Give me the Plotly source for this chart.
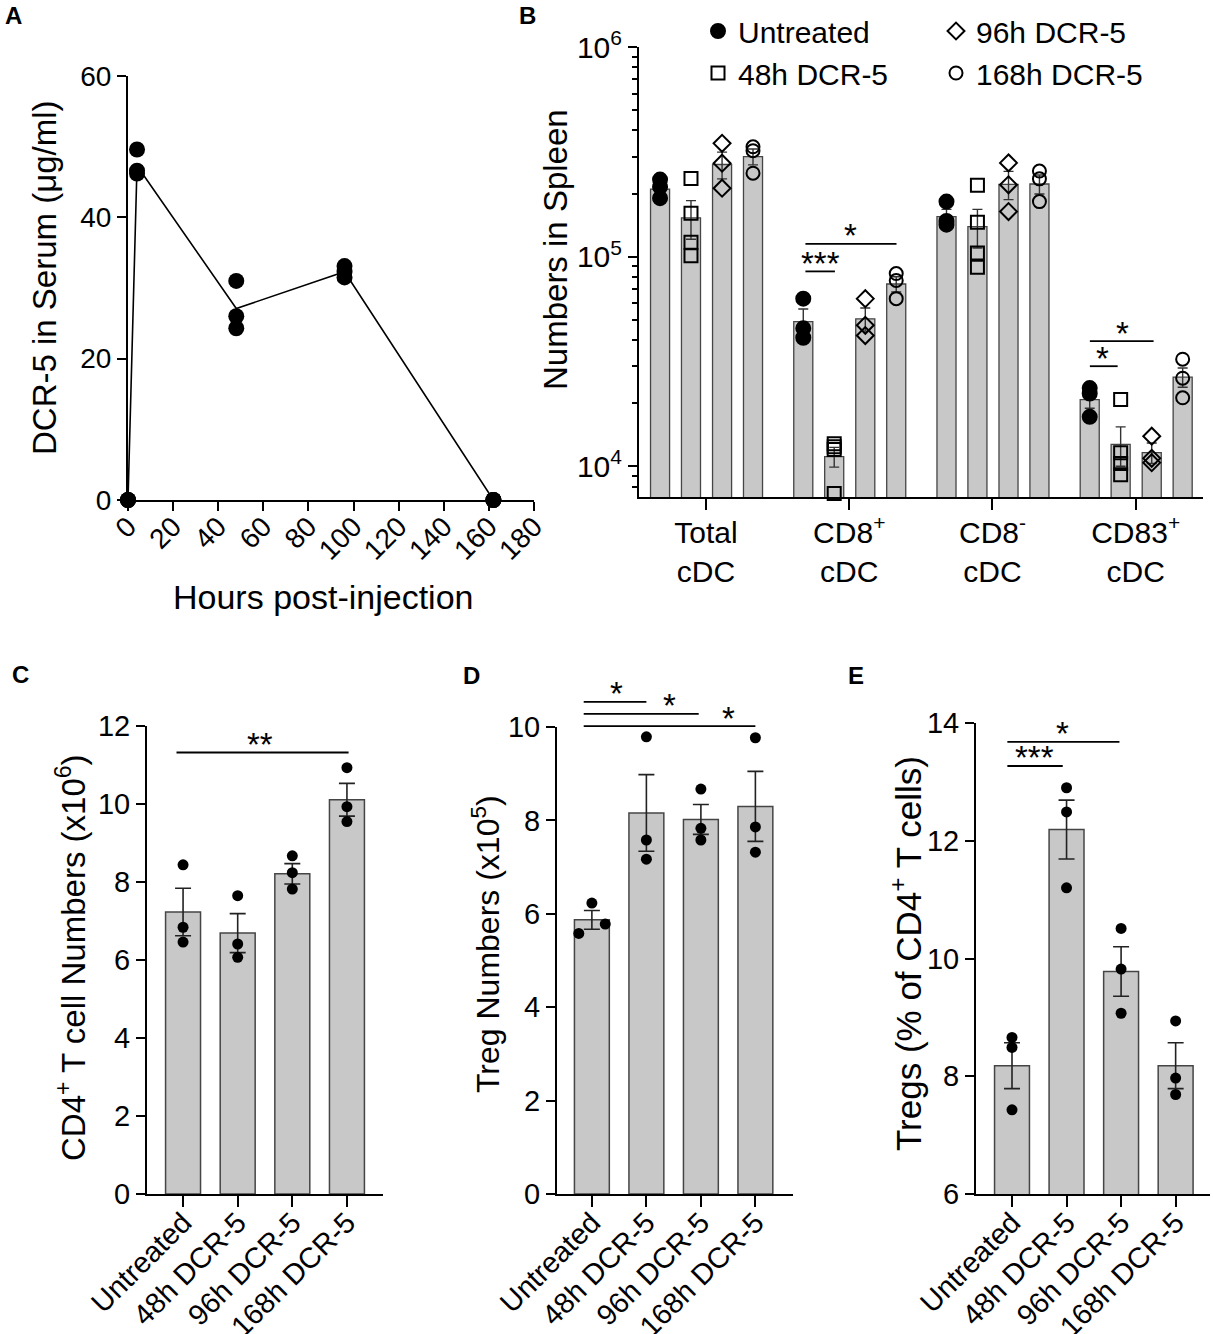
import plotly.graph_objects as go
import numpy as np

W, H = 1213, 1334
FONT = "Liberation Sans, Arial, Helvetica, sans-serif"
BAR_FILL = "#c8c8c8"
BAR_LINE = "#454545"

# ---------------- Panel A data ----------------
A_hours = [0, 4, 48, 96, 162]
A_rep1 = [0, 49.6, 31.0, 33.1, 0]
A_rep2 = [0, 46.6, 26.0, 32.3, 0]
A_rep3 = [0, 46.2, 24.3, 31.5, 0]
A_mean = [0, 47.3, 27.1, 32.3, 0]
A_xticks = [0, 20, 40, 60, 80, 100, 120, 140, 160, 180]
A_yticks = [0, 20, 40, 60]

# ---------------- Panel B data ----------------
B_groups = ["Total<br>cDC", "CD8<sup>+</sup><br>cDC", "CD8<sup>-</sup><br>cDC", "CD83<sup>+</sup><br>cDC"]
B_treatments = ["Untreated", "48h DCR-5", "96h DCR-5", "168h DCR-5"]
B_mean_untreated = [2.10e5, 4.9e4, 1.55e5, 2.08e4]
B_mean_48h = [1.53e5, 1.11e4, 1.39e5, 1.27e4]
B_mean_96h = [2.75e5, 5.05e4, 2.21e5, 1.16e4]
B_mean_168h = [3.0e5, 7.4e4, 2.22e5, 2.66e4]
B_sem_untreated = [1.3e4, 7.2e3, 1.3e4, 1.9e3]
B_sem_48h = [3.2e4, 1.2e3, 2.9e4, 2.7e3]
B_sem_96h = [4.0e4, 6.4e3, 3.4e4, 1.3e3]
B_sem_168h = [2.6e4, 6.2e3, 2.3e4, 2.8e3]
B_pts_untreated = [[2.33e5, 2.15e5, 1.90e5], [6.3e4, 4.55e4, 4.1e4],
                   [1.83e5, 1.48e5, 1.42e5], [2.36e4, 2.22e4, 1.72e4]]
B_pts_48h = [[2.36e5, 1.61e5, 1.17e5, 1.01e5], [1.28e4, 1.24e4, 1.2e4, 7.4e3],
             [2.19e5, 1.46e5, 1.04e5, 8.9e4], [2.08e4, 1.16e4, 1.03e4, 9.1e3]]
B_pts_96h = [[3.47e5, 2.79e5, 2.12e5], [6.3e4, 4.7e4, 4.2e4],
             [2.8e5, 2.2e5, 1.64e5], [1.39e4, 1.09e4, 1.04e4]]
B_pts_168h = [[3.34e5, 3.2e5, 2.5e5], [8.3e4, 7.7e4, 6.3e4],
              [2.56e5, 2.35e5, 1.83e5], [3.24e4, 2.63e4, 2.12e4]]
B_yticks = [1e4, 1e5, 1e6]
B_yticklabels = ["10<sup>4</sup>", "10<sup>5</sup>", "10<sup>6</sup>"]
B_minor = [m * 10 ** e for e in (3, 4, 5) for m in range(2, 10)]
# significance brackets: start, end, height, label, label x
B_sig_x0 = [0.694, 0.694, 2.68, 2.68]
B_sig_x1 = [1.33, 0.90, 3.125, 2.874]
B_sig_y = [1.15e5, 8.5e4, 3.95e4, 3.0e4]
B_sig_label = ["*", "***", "*", "*"]
B_sig_labx = [1.01, 0.80, 2.91, 2.77]

# ---------------- Panels C, D, E data ----------------
CDE_groups = ["Untreated", "48h DCR-5", "96h DCR-5", "168h DCR-5"]

C_mean = [7.23, 6.69, 8.21, 10.11]
C_sem = [0.61, 0.50, 0.26, 0.42]
C_pts = [[8.44, 6.84, 6.46], [7.65, 6.41, 6.07], [8.67, 8.24, 7.82], [10.93, 9.93, 9.55]]
C_sig_x0 = [-0.12]
C_sig_x1 = [3.03]
C_sig_y = [11.32]
C_sig_label = ["**"]
C_sig_labx = [1.40]

D_mean = [5.87, 8.16, 8.02, 8.30]
D_sem = [0.20, 0.82, 0.32, 0.75]
D_pts = [[6.23, 5.58, 5.78], [9.79, 7.58, 7.17], [8.67, 7.83, 7.58], [9.77, 7.86, 7.32]]
D_sig_x0 = [-0.15, -0.15, -0.15]
D_sig_x1 = [1.0, 1.96, 3.0]
D_sig_y = [10.54, 10.28, 10.02]
D_sig_label = ["*", "*", "*"]
D_sig_labx = [0.46, 1.43, 2.50]

E_mean = [8.18, 12.19, 9.78, 8.18]
E_sem = [0.39, 0.50, 0.42, 0.39]
E_pts = [[8.66, 8.49, 7.43], [12.90, 12.49, 11.20], [10.51, 9.82, 9.07], [8.94, 7.97, 7.69]]
E_sig_x0 = [-0.085, -0.085]
E_sig_x1 = [0.93, 1.97]
E_sig_y = [13.27, 13.68]
E_sig_label = ["***", "*"]
E_sig_labx = [0.42, 0.92]

# ---------------- layout helpers ----------------
def xdom(a, b):
    return [a / W, b / W]

def ydom(top, bottom):
    return [1 - bottom / H, 1 - top / H]

def axis_style(size=29, **kw):
    d = dict(showline=True, linecolor="black", linewidth=2, ticks="outside",
             ticklen=9, tickwidth=2, tickcolor="black", showgrid=False,
             zeroline=False, mirror=False,
             tickfont=dict(size=size, color="black", family=FONT))
    d.update(kw)
    return d

fig = go.Figure()

# ---------------- Panel A ----------------
A_x_pts = [h for h in A_hours for _ in range(3)]
A_y_pts = [v for trip in zip(A_rep1, A_rep2, A_rep3) for v in trip]
fig.add_trace(go.Scatter(x=A_hours, y=A_mean, mode="lines", xaxis="x", yaxis="y",
                         line=dict(color="black", width=1.6), showlegend=False,
                         cliponaxis=False))
fig.add_trace(go.Scatter(x=A_x_pts, y=A_y_pts, mode="markers", xaxis="x", yaxis="y",
                         marker=dict(color="black", size=16, symbol="circle"),
                         showlegend=False, cliponaxis=False))

# ---------------- Panel B ----------------
B_offsets = [-0.321, -0.105, 0.112, 0.328]
B_means = [B_mean_untreated, B_mean_48h, B_mean_96h, B_mean_168h]
B_sems = [B_sem_untreated, B_sem_48h, B_sem_96h, B_sem_168h]
B_pts = [B_pts_untreated, B_pts_48h, B_pts_96h, B_pts_168h]
B_symbols = ["circle", "square-open", "diamond-open", "circle-open"]
B_sizes = [14, 13, 13, 13]
B_legends = ["legend", "legend", "legend2", "legend2"]
for k in range(4):
    xs = [g + B_offsets[k] for g in range(4)]
    fig.add_trace(go.Bar(x=xs, y=B_means[k], width=0.133, xaxis="x2", yaxis="y2",
                         marker=dict(color=BAR_FILL, line=dict(color=BAR_LINE, width=1.3)),
                         error_y=dict(type="data", array=B_sems[k], color="#333333",
                                      thickness=1.4, width=5),
                         showlegend=False))
for k in range(4):
    px_, py_ = [], []
    for g in range(4):
        for v in B_pts[k][g]:
            px_.append(g + B_offsets[k])
            py_.append(v)
    fig.add_trace(go.Scatter(x=px_, y=py_, mode="markers", xaxis="x2", yaxis="y2",
                             name=B_treatments[k], legend=B_legends[k],
                             marker=dict(color="black", size=B_sizes[k], symbol=B_symbols[k],
                                         line=dict(color="black", width=2)),
                             cliponaxis=False))
for i in range(len(B_sig_y)):
    fig.add_trace(go.Scatter(x=[B_sig_x0[i], B_sig_x1[i]], y=[B_sig_y[i]] * 2, mode="lines",
                             xaxis="x2", yaxis="y2", line=dict(color="black", width=1.8),
                             showlegend=False, cliponaxis=False))

# ---------------- Panels C, D, E ----------------
# (x axis, y axis for bars, y axis for brackets)
panels = [
    ("x3", "y3", "y3", C_mean, C_sem, C_pts, [[0, 0, 0]] * 4, C_sig_x0, C_sig_x1, C_sig_y),
    ("x4", "y4", "y6", D_mean, D_sem, D_pts, [[0, -0.24, 0.245], [0, 0, 0], [0, 0, 0], [0, 0, 0]],
     D_sig_x0, D_sig_x1, D_sig_y),
    ("x5", "y5", "y5", E_mean, E_sem, E_pts, [[0, 0, 0]] * 4, E_sig_x0, E_sig_x1, E_sig_y),
]
for xa, ya, yb, mean, sem, pts, jit, sx0, sx1, sy in panels:
    fig.add_trace(go.Bar(x=list(range(4)), y=mean, width=0.64, xaxis=xa, yaxis=ya,
                         marker=dict(color=BAR_FILL, line=dict(color=BAR_LINE, width=1.5)),
                         error_y=dict(type="data", array=sem, color="#222222",
                                      thickness=1.6, width=8),
                         showlegend=False))
    xs = [g + jit[g][j] for g in range(4) for j in range(len(pts[g]))]
    ys = [v for g in range(4) for v in pts[g]]
    fig.add_trace(go.Scatter(x=xs, y=ys, mode="markers", xaxis=xa, yaxis=ya,
                             marker=dict(color="black", size=11), showlegend=False,
                             cliponaxis=False))
    for i in range(len(sy)):
        fig.add_trace(go.Scatter(x=[sx0[i], sx1[i]], y=[sy[i]] * 2, mode="lines",
                                 xaxis=xa, yaxis=yb, line=dict(color="black", width=1.8),
                                 showlegend=False, cliponaxis=False))

# ---------------- significance labels ----------------
annotations = []
STAR_FONT = dict(size=33, color="black", family=FONT)
for i in range(len(B_sig_y)):
    annotations.append(dict(x=B_sig_labx[i], y=np.log10(B_sig_y[i]), xref="x2", yref="y2",
                            text=B_sig_label[i], showarrow=False, yanchor="middle",
                            yshift=8, font=STAR_FONT))
for xa, ya, labx, sy, lab in [("x3", "y3", C_sig_labx, C_sig_y, C_sig_label),
                              ("x4", "y6", D_sig_labx, D_sig_y, D_sig_label),
                              ("x5", "y5", E_sig_labx, E_sig_y, E_sig_label)]:
    for i in range(len(sy)):
        annotations.append(dict(x=labx[i], y=sy[i], xref=xa, yref=ya, text=lab[i],
                                showarrow=False, yanchor="middle", yshift=8, font=STAR_FONT))

# axis titles (placed as paper annotations)
def title_ann(text, cx, cy, size, angle=-90):
    return dict(x=cx / W, y=1 - cy / H, xref="paper", yref="paper", text=text,
                showarrow=False, xanchor="center", yanchor="middle", textangle=angle,
                font=dict(size=size, color="black", family=FONT))

annotations += [
    title_ann("DCR-5 in Serum (μg/ml)", 45, 278, 33),
    title_ann("Hours post-injection", 323, 597, 34, angle=0),
    title_ann("Numbers in Spleen", 556, 250, 33),
    title_ann("CD4<sup>+</sup> T cell Numbers (x10<sup>6</sup>)", 71, 958, 33),
    title_ann("Treg Numbers (x10<sup>5</sup>)", 486, 944, 32),
    title_ann("Tregs (% of CD4<sup>+</sup> T cells)", 906, 954, 35),
]

# panel letters
LETTER_FONT = dict(size=24, color="black", family=FONT)
for letter, px, py in [("A", 3, 16), ("B", 517, 16), ("C", 10, 674), ("D", 461, 675), ("E", 846, 675)]:
    annotations.append(dict(x=px / W, y=1 - py / H, xref="paper", yref="paper",
                            text="<b>%s</b>" % letter, showarrow=False,
                            xanchor="left", yanchor="middle", font=LETTER_FONT))

D_TOP, D_BOTTOM, D_EXT = 727, 1194, 660

fig.update_layout(
    width=W, height=H, template="none",
    margin=dict(l=0, r=0, t=0, b=0),
    paper_bgcolor="white", plot_bgcolor="rgba(0,0,0,0)",
    barmode="overlay", font=dict(family=FONT, color="black"),
    annotations=annotations,
    xaxis=axis_style(size=28, domain=xdom(128, 534), anchor="y", range=[0, 180],
                     tickvals=A_xticks, tickangle=-45, ticklabelstandoff=-12),
    yaxis=axis_style(size=28, domain=ydom(76, 500), anchor="x", range=[0, 60], tickvals=A_yticks),
    xaxis2=axis_style(size=30, domain=xdom(639, 1203), anchor="y2", range=[-0.468, 3.47],
                      tickvals=[0, 1, 2, 3], ticktext=B_groups, ticklen=11, ticklabelstandoff=-3),
    yaxis2=axis_style(size=30, domain=ydom(47, 497), anchor="x2", type="log",
                      range=[np.log10(7130), 6], tickvals=B_yticks, ticktext=B_yticklabels,
                      ticklen=9,
                      minor=dict(tickvals=B_minor, ticks="outside", ticklen=5, tickwidth=1.5,
                                 tickcolor="black")),
    xaxis3=axis_style(domain=xdom(147, 383), anchor="y3", range=[-0.66, 3.66],
                      tickvals=[0, 1, 2, 3], ticktext=CDE_groups, tickangle=-45, ticklen=11,
                      ticklabelstandoff=-13),
    yaxis3=axis_style(domain=ydom(726, 1194), anchor="x3", range=[0, 12],
                      tickvals=[0, 2, 4, 6, 8, 10, 12]),
    xaxis4=axis_style(domain=xdom(557, 793), anchor="y4", range=[-0.64, 3.69],
                      tickvals=[0, 1, 2, 3], ticktext=CDE_groups, tickangle=-45, ticklen=11,
                      ticklabelstandoff=-13),
    yaxis4=axis_style(domain=ydom(D_TOP, D_BOTTOM), anchor="x4", range=[0, 10],
                      tickvals=[0, 2, 4, 6, 8, 10]),
    yaxis6=dict(domain=ydom(D_EXT, D_BOTTOM), anchor="x4", visible=False,
                range=[0, 10 * (D_BOTTOM - D_EXT) / (D_BOTTOM - D_TOP)]),
    xaxis5=axis_style(domain=xdom(976, 1210), anchor="y5", range=[-0.66, 3.63],
                      tickvals=[0, 1, 2, 3], ticktext=CDE_groups, tickangle=-45, ticklen=11,
                      ticklabelstandoff=-13),
    yaxis5=axis_style(domain=ydom(723, 1194), anchor="x5", range=[6, 14],
                      tickvals=[6, 8, 10, 12, 14]),
    legend=dict(x=698 / W, y=1 - 5 / H, xanchor="left", yanchor="top",
                bgcolor="rgba(0,0,0,0)", borderwidth=0,
                font=dict(size=30, color="black", family=FONT), tracegroupgap=0),
    legend2=dict(x=936 / W, y=1 - 5 / H, xanchor="left", yanchor="top",
                 bgcolor="rgba(0,0,0,0)", borderwidth=0,
                 font=dict(size=30, color="black", family=FONT), tracegroupgap=0),
)

fig.write_html("out.html", config={"displayModeBar": False},
               post_script="document.body.style.margin='0';")
